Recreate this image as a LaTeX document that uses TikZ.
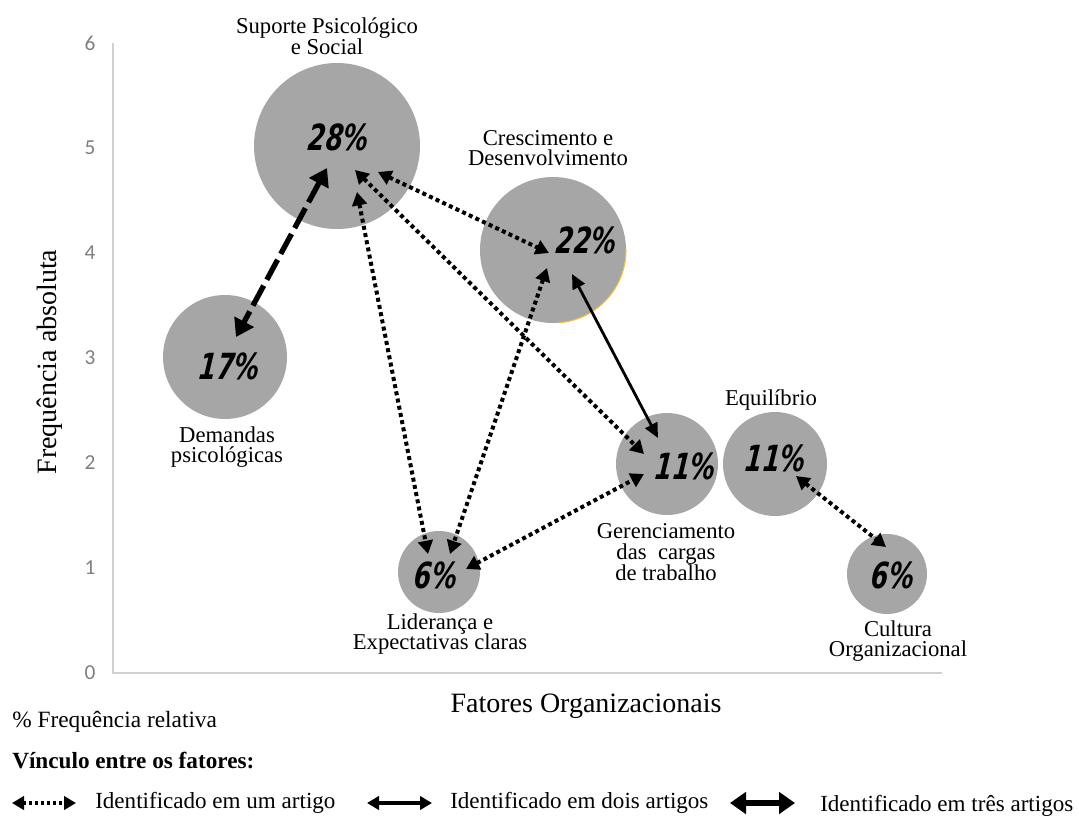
\documentclass[tikz,border=0pt]{standalone}
\usepackage{fontspec}
\setmainfont{Liberation Serif}
\newfontfamily\tickfont{Carlito}
\newfontfamily\pctfont[FakeStretch=0.7, FakeSlant=0.1]{DejaVu Sans}
\usetikzlibrary{arrows.meta}
\definecolor{bubblegray}{HTML}{A6A6A6}
\definecolor{axisgray}{HTML}{D0D0D0}
\definecolor{tickgray}{HTML}{7F7F7F}
\definecolor{rimyellow}{HTML}{F2C230}
\begin{document}
\begin{tikzpicture}[x=0.75pt,y=-0.75pt,
  bubble/.style={circle, fill=bubblegray, draw=none, inner sep=0pt, minimum size=#1*1.5pt},
  pct/.style={font=\pctfont\bfseries\itshape\fontsize{27}{27}\selectfont, inner sep=0pt},
  lbl/.style={font=\fontsize{17}{15.5}\selectfont, align=center, inner sep=0pt},
  ticklbl/.style={font=\tickfont\fontsize{16}{16}\selectfont, text=tickgray, inner sep=0pt},
  legtext/.style={font=\fontsize{17.3}{18}\selectfont, anchor=west, inner sep=0pt},
  dotlink/.style={line width=3pt, dash pattern=on 3pt off 2.5pt, <->, >={Triangle[length=10pt,width=11pt]}},
  solidlink/.style={line width=2.1pt, <->, >={Triangle[length=11pt,width=10pt]}},
  thicklink/.style={line width=4pt, dash pattern=on 17pt off 5pt, <->, >={Triangle[length=13pt,width=16pt]}},
]
\useasboundingbox (0,0) rectangle (1079,818);
\fill[white] (0,0) rectangle (1079,818);

% axes
\coordinate (ytop) at (113,43);
\coordinate (orig) at (113,673);
\coordinate (xend) at (942,673);
\draw[axisgray, line width=1.6pt] (ytop) -- (orig) -- (xend);
\foreach \k in {0,...,6} {
  \node[ticklbl] (t\k) at (90,673-105*\k) {\k};
}
\node[font=\fontsize{21}{21}\selectfont, rotate=90, inner sep=0pt] (ytitle) at (50,362) {Frequência absoluta};
\node[font=\fontsize{21}{21}\selectfont, inner sep=0pt] (xtitle) at (586,706) {Fatores Organizacionais};

% bubbles
\node[bubble=83] (b28) at (337,146) {};
\node[bubble=73] (b22) at (553,250) {};
\draw[rimyellow, line width=0.8pt] ([shift={(-85:54.75pt)}]553,250) arc[start angle=-85, end angle=0, radius=54.75pt];
\node[bubble=62] (b17) at (225,357) {};
\node[bubble=51] (bG) at (667,464) {};
\node[bubble=52] (bE) at (775,464) {};
\node[bubble=41] (bL) at (439,572) {};
\node[bubble=40] (bC) at (887,574) {};

% percentages
\node[pct] (p28) at (338,137) {28\%};
\node[pct] (p22) at (586,240) {22\%};
\node[pct] (p17) at (229,366) {17\%};
\node[pct] (pG) at (685,466) {11\%};
\node[pct] (pE) at (775,458) {11\%};
\node[pct] (pL) at (435,575) {6\%};
\node[pct] (pC) at (892,575) {6\%};

% labels
\node[lbl] (l28) at (327,36) {Suporte Psicológico\\e Social};
\node[lbl] (l22) at (548,148) {Crescimento e\\Desenvolvimento};
\node[lbl] (l17) at (227,447) {Demandas\\psicológicas};
\node[lbl] (lE) at (771,400) {Equilíbrio};
\node[lbl] (lG) at (666,552) {Gerenciamento\\das\ \ cargas\\de trabalho};
\node[lbl] (lL) at (440,634) {Liderança e\\Expectativas claras};
\node[lbl] (lC) at (898,641) {Cultura\\Organizacional};

% connector end points
\coordinate (a28d) at (327,168);
\coordinate (a17) at (236,337);
\coordinate (a28c) at (378,172);
\coordinate (a22a) at (549,253);
\coordinate (a28b) at (355,170);
\coordinate (aGa) at (644,454);
\coordinate (a28e) at (357,192);
\coordinate (aLa) at (428,554);
\coordinate (a22b) at (547,268);
\coordinate (aLb) at (450,554);
\coordinate (a22c) at (572,274);
\coordinate (aGb) at (658,438);
\coordinate (aLc) at (466,569);
\coordinate (aGc) at (644,474);
\coordinate (aE) at (796,476);
\coordinate (aC) at (886,547);

\draw[thicklink] (a28d) -- (a17);
\draw[dotlink] (a28c) -- (a22a);
\draw[dotlink] (a28b) -- (aGa);
\draw[dotlink] (a28e) -- (aLa);
\draw[dotlink] (a22b) -- (aLb);
\draw[solidlink] (a22c) -- (aGb);
\draw[dotlink] (aLc) -- (aGc);
\draw[dotlink] (aE) -- (aC);

% legend
\node[font=\fontsize{17.5}{18}\selectfont, anchor=west, inner sep=0pt] (rel) at (12,722) {\% Frequência relativa};
\node[font=\bfseries\fontsize{17.4}{18}\selectfont, anchor=west, inner sep=0pt] (vinc) at (12,760) {Vínculo entre os fatores:};

\coordinate (g1a) at (12,803);
\coordinate (g1b) at (76,803);
\coordinate (g2a) at (367,803);
\coordinate (g2b) at (432,803);
\coordinate (g3a) at (730,803);
\coordinate (g3b) at (795,803);
\draw[line width=2.3pt, dash pattern=on 2.3pt off 2.2pt, <->, >={Triangle[length=9pt,width=10pt]}] (g1a) -- (g1b);
\draw[line width=2.3pt, <->, >={Triangle[length=9pt,width=10pt]}] (g2a) -- (g2b);
\draw[line width=4.8pt, <->, >={Triangle[length=12pt,width=16pt]}] (g3a) -- (g3b);
\node[legtext] (t1) at (95,803) {Identificado em um artigo};
\node[legtext] (t2) at (450,803) {Identificado em dois artigos};
\node[legtext] (t3) at (820,806) {Identificado em três artigos};
\end{tikzpicture}
\end{document}
